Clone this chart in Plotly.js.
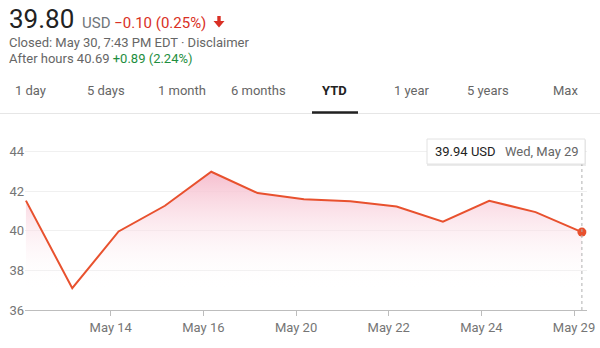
<!DOCTYPE html>
<html>
<head>
<meta charset="utf-8">
<script src="https://cdn.plot.ly/plotly-3.0.1.min.js"></script>
<style>
html,body{margin:0;padding:0;background:#fff;}
#chart{width:600px;height:348px;}
</style>
</head>
<body>
<div id="chart"></div>
<script>
// ---- data ----
const dates = ["May 10","May 13","May 14","May 15","May 16","May 17","May 20","May 21","May 22","May 23","May 24","May 28","May 29"];
const prices = [41.53,37.10,39.97,41.27,42.99,41.91,41.60,41.50,41.23,40.47,41.52,40.95,39.94];
const tickLabels = ["May 14","May 16","May 20","May 22","May 24","May 29"];
const yTicks = [36,38,40,42,44];
const tabs = ["1 day","5 days","1 month","6 months","YTD","1 year","5 years","Max"];
const tooltipPrice = "39.94 USD";
const tooltipDate = "Wed, May 29";

// ---- layout helpers ----
const W = 600, H = 348;
const M = {l:25, r:13, t:132, b:38};
const PW = W - M.l - M.r, PH = H - M.t - M.b;
const X = px => (px - M.l) / PW;
const Y = py => (H - M.b - py) / PH;

const idx = dates.map((d,i)=>i);
const tickOffset = 0.17;
const tickVals = tickLabels.map(t => dates.indexOf(t) - tickOffset);
const last = prices.length - 1;

const FONT = "Roboto, Arial, sans-serif";
const RED = "#e8512e";

const traces = [
  {
    x: idx, y: prices, type: "scatter", mode: "lines",
    line: {color: RED, width: 2},
    fill: "tozeroy",
    fillcolor: "rgba(245,190,205,0.45)",
    fillgradient: {type: "vertical", start: 37.0, stop: 43.0,
      colorscale: [[0, "rgba(255,255,255,0)"], [1, "rgba(246,190,206,1)"]]},
    hoverinfo: "skip", showlegend: false
  },
  {
    x: [idx[last]], y: [prices[last]], type: "scatter", mode: "markers",
    marker: {color: RED, size: 9}, hoverinfo: "skip", showlegend: false, cliponaxis: false
  }
];

const tabCenters = [30,106,182,258,334,412,488,565];
const annotations = [
  {text: "39.80", x: X(7), y: Y(19), xanchor: "left", yanchor: "middle",
   font: {family: FONT, size: 26, color: "#222"}},
  {text: "USD <span style='color:#d93025'>−0.10 (0.25%)</span>", x: X(80), y: Y(22.5), xanchor: "left", yanchor: "middle",
   font: {family: FONT, size: 15, color: "#70757a"}},
  {text: "Closed: May 30, 7:43 PM EDT · Disclaimer", x: X(7), y: Y(42), xanchor: "left", yanchor: "middle",
   font: {family: FONT, size: 13, color: "#666"}},
  {text: "After hours 40.69 <span style='color:#1e8e3e'>+0.89 (2.24%)</span>", x: X(7), y: Y(58), xanchor: "left", yanchor: "middle",
   font: {family: FONT, size: 13, color: "#666"}},
  {text: tooltipPrice, x: X(433), y: Y(151.5), xanchor: "left", yanchor: "middle",
   font: {family: FONT, size: 13, color: "#222"}},
  {text: tooltipDate, x: X(503), y: Y(151.5), xanchor: "left", yanchor: "middle",
   font: {family: FONT, size: 13, color: "#666"}}
];
tabs.forEach((t,i)=>{
  annotations.push({
    text: t === "YTD" ? "<b>"+t+"</b>" : t,
    x: X(tabCenters[i]), y: Y(90), xanchor: "center", yanchor: "middle",
    font: {family: FONT, size: 13, color: t === "YTD" ? "#222" : "#666"}
  });
});
annotations.forEach(a => { a.xref = "paper"; a.yref = "paper"; a.showarrow = false; });

// down arrow path (pixel coords -> paper)
const arrowPts = [[217.3,16],[220.7,16],[220.7,21],[224.5,21],[219,27.5],[213.5,21],[217.3,21]];
const arrowPath = "M" + arrowPts.map(p => X(p[0]) + "," + Y(p[1])).join(" L") + " Z";

const shapes = [
  {type: "path", xref: "paper", yref: "paper", path: arrowPath,
   fillcolor: "#d93025", line: {width: 0}},
  // tab divider
  {type: "line", xref: "paper", yref: "paper", x0: X(0), x1: X(600), y0: Y(113.5), y1: Y(113.5),
   line: {color: "#e6e6e6", width: 1}},
  // YTD underline
  {type: "line", xref: "paper", yref: "paper", x0: X(312), x1: X(358), y0: Y(112.5), y1: Y(112.5),
   line: {color: "#222", width: 2.5}},
  // dotted crosshair
  {type: "line", xref: "x", yref: "paper", x0: idx[last], x1: idx[last], y0: 0, y1: Y(164),
   line: {color: "#b0b0b0", width: 1, dash: "dot"}},
  // tooltip shadow
  {type: "rect", xref: "paper", yref: "paper", x0: X(427), x1: X(586), y0: Y(140), y1: Y(166),
   fillcolor: "rgba(0,0,0,0.08)", line: {width: 0}},
  // tooltip box
  {type: "rect", xref: "paper", yref: "paper", x0: X(427), x1: X(585), y0: Y(139), y1: Y(164),
   fillcolor: "#fff", line: {color: "#e2e2e2", width: 1}}
];

const layout = {
  width: W, height: H, margin: M,
  paper_bgcolor: "#fff", plot_bgcolor: "#fff",
  font: {family: FONT},
  showlegend: false,
  xaxis: {
    range: [-0.02, 12.11], tickvals: tickVals, ticktext: tickLabels,
    ticks: "outside", ticklen: 5, tickcolor: "#bdbdbd", tickwidth: 1,
    showline: true, linecolor: "#bdbdbd", linewidth: 1,
    showgrid: false, zeroline: false, fixedrange: true,
    tickfont: {family: FONT, size: 13, color: "#757575"}
  },
  yaxis: {
    range: [36, 45], tickvals: yTicks, ticktext: yTicks.map(String),
    showgrid: true, gridcolor: "#f0f0f0", gridwidth: 1,
    zeroline: false, showline: false, ticks: "", fixedrange: true,
    tickfont: {family: FONT, size: 13, color: "#757575"}
  },
  annotations: annotations,
  shapes: shapes
};

Plotly.newPlot("chart", traces, layout, {displayModeBar: false, staticPlot: true});
</script>
</body>
</html>
